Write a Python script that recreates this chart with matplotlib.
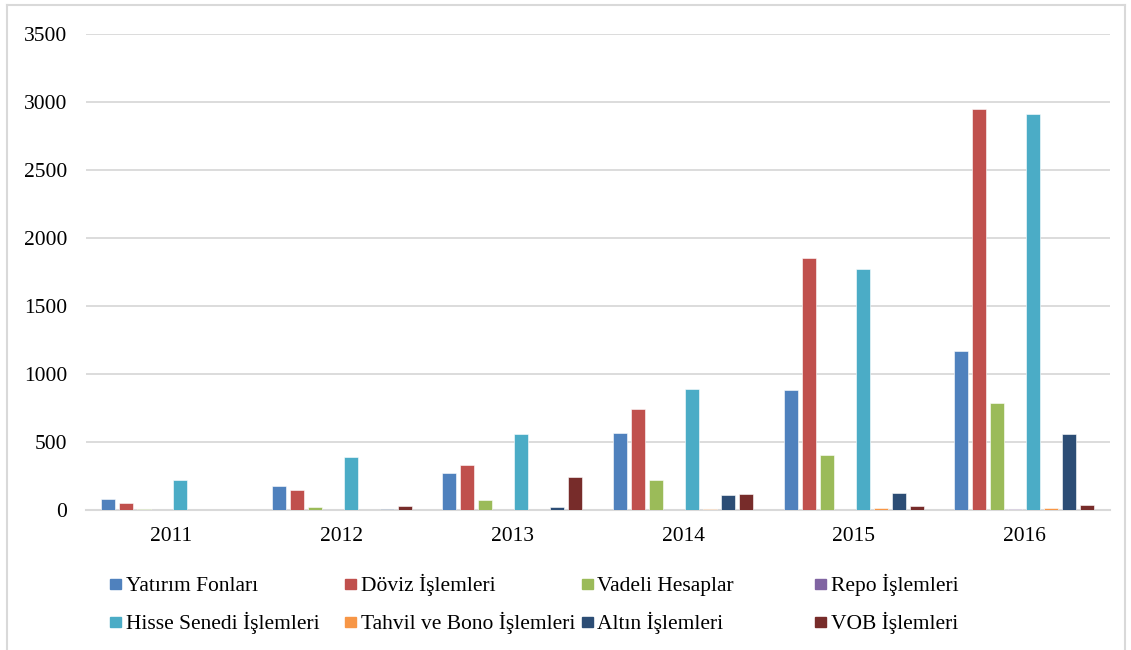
import matplotlib.pyplot as plt
import matplotlib.patches as mpatches
import numpy as np

# veriler
yillar = ["2011", "2012", "2013", "2014", "2015", "2016"]

yatirim_fonlari = [82, 174, 269, 567, 885, 1166]
doviz_islemleri = [50, 150, 332, 743, 1853, 2946]
vadeli_hesaplar = [5, 20, 75, 218, 406, 790]
repo_islemleri = [0, 0, 0, 2, 0, 5]
hisse_senedi = [220, 389, 562, 888, 1773, 2914]
tahvil_bono = [0, 0, 0, 4, 12, 15]
altin_islemleri = [0, 5, 24, 112, 122, 557]
vob_islemleri = [0, 29, 240, 115, 27, 37]

seri_adlari = ["Yatırım Fonları", "Döviz İşlemleri", "Vadeli Hesaplar", "Repo İşlemleri",
               "Hisse Senedi İşlemleri", "Tahvil ve Bono İşlemleri", "Altın İşlemleri", "VOB İşlemleri"]
seriler = [yatirim_fonlari, doviz_islemleri, vadeli_hesaplar, repo_islemleri,
           hisse_senedi, tahvil_bono, altin_islemleri, vob_islemleri]
renkler = ["#4F81BD", "#C0504D", "#9BBB59", "#8064A2",
           "#4BACC6", "#F79646", "#2C4D75", "#772C2A"]

plt.rcParams['font.family'] = ['Liberation Serif', 'DejaVu Serif']

fig = plt.figure(figsize=(11.31, 6.5), dpi=100)
ax = fig.add_axes([0.076, 0.2154, 0.905, 0.7326])

x = np.arange(len(yillar))
aralik = 18 / 170.7
genislik = 14 / 170.7
for i, (ad, veri, renk) in enumerate(zip(seri_adlari, seriler, renkler)):
    ax.bar(x + (i - 3.5) * aralik, veri, width=genislik, color=renk,
           edgecolor="white", linewidth=0.4, label=ad, zorder=3)

ax.set_xlim(-0.5, len(yillar) - 0.5)
ax.set_ylim(0, 3500)
ax.set_yticks(range(0, 3501, 500))
ax.set_xticks(x)
ax.set_xticklabels(yillar)
ax.tick_params(axis='both', length=0, labelsize=15.5)
ax.tick_params(axis='y', pad=13.5)
ax.tick_params(axis='x', pad=12)
ax.grid(axis='y', color="#d9d9d9", linewidth=1.3, zorder=0)
for s in ["top", "right", "left"]:
    ax.spines[s].set_visible(False)
ax.spines["bottom"].set_color("#d9d9d9")
ax.spines["bottom"].set_linewidth(1.5)

# lejant (elle yerlestirildi)
kutu_x = [110, 345, 582, 815]
yazi_x = [126, 361, 597, 831]
satir_y = [584, 622]
W, H = 1131, 650
for i, (ad, renk) in enumerate(zip(seri_adlari, renkler)):
    satir, sutun = divmod(i, 4)
    cy = satir_y[satir]
    fig.patches.append(mpatches.Rectangle((kutu_x[sutun] / W, 1 - (cy + 5) / H), 11 / W, 10 / H,
                                          transform=fig.transFigure, color=renk))
    fig.text(yazi_x[sutun] / W, 1 - (cy + 7) / H, ad, fontsize=15.5, va='baseline', ha='left')

# cerceve
fig.add_artist(plt.Line2D([7 / W, 7 / W], [0, 1 - 5 / H], color="#d9d9d9", linewidth=1.5))
fig.add_artist(plt.Line2D([7 / W, 1125 / W], [1 - 5 / H, 1 - 5 / H], color="#d9d9d9", linewidth=1.5))
fig.add_artist(plt.Line2D([1125 / W, 1125 / W], [0, 1 - 5 / H], color="#d9d9d9", linewidth=1.5))

plt.savefig("out.png", dpi=100)
